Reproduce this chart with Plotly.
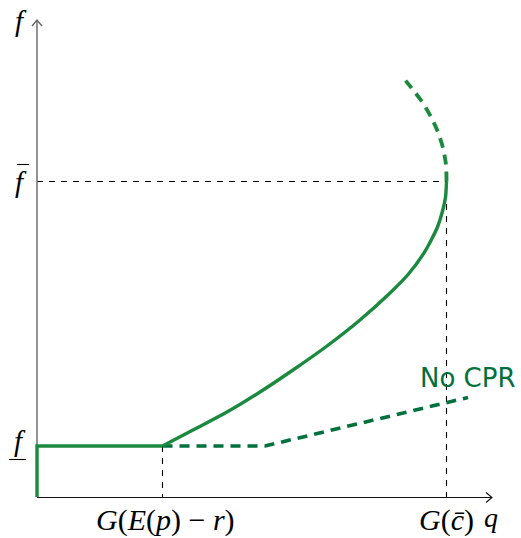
import plotly.graph_objects as go

# ---- data (chart units) ----
q_low = 2.51         # G(E(p) - r)
q_bar = 8.19         # G(c_bar)
f_low = 1.02
f_bar = 6.31

main_q = [2.51, 3.12, 3.8, 4.46, 5.12, 5.8, 6.46, 7.06, 7.43, 7.74, 7.89, 8.01, 8.1, 8.17, 8.19]
main_f = [1.02, 1.34, 1.7, 2.1, 2.54, 3.02, 3.54, 4.08, 4.46, 4.88, 5.15, 5.4, 5.68, 6.0, 6.31]

upper_q = [8.19, 8.18, 8.12, 8.01, 7.87, 7.69, 7.49, 7.28]
upper_f = [6.31, 6.64, 6.98, 7.32, 7.62, 7.92, 8.18, 8.44]

nocpr_q = [2.51, 4.56, 8.62]
nocpr_f = [1.02, 1.02, 1.99]

x_axis_end = 9.1
y_axis_end = 9.54

GREEN = "#1b8a3f"
DARK = "#00703c"

fig = go.Figure()

# reference dashed lines
fig.add_trace(go.Scatter(x=[0, q_bar, q_bar], y=[f_bar, f_bar, 0], mode="lines",
                         line=dict(color="black", width=1.1, dash="6px,6px")))
fig.add_trace(go.Scatter(x=[q_low, q_low], y=[f_low, 0], mode="lines",
                         line=dict(color="black", width=1.1, dash="6px,6px")))

# axes
fig.add_trace(go.Scatter(x=[0, 0], y=[0, y_axis_end], mode="lines",
                         line=dict(color="#666666", width=1.4)))
fig.add_trace(go.Scatter(x=[0, x_axis_end], y=[-0.01, -0.01], mode="lines",
                         line=dict(color="#111111", width=1.1)))

# No CPR dashed
fig.add_trace(go.Scatter(x=nocpr_q, y=nocpr_f, mode="lines",
                         line=dict(color=DARK, width=3.6, dash="10px,7px")))

# CPR curve: vertical + flat + rising
fig.add_trace(go.Scatter(x=[0, 0, q_low], y=[0, f_low, f_low], mode="lines",
                         line=dict(color=GREEN, width=3.4)))
fig.add_trace(go.Scatter(x=main_q, y=main_f, mode="lines",
                         line=dict(color=GREEN, width=3.4, shape="spline", smoothing=0.8)))
fig.add_trace(go.Scatter(x=upper_q, y=upper_f, mode="lines",
                         line=dict(color=GREEN, width=3.8, dash="10px,7px", shape="spline", smoothing=0.8)))

# arrow heads and label bars
shapes = [
    dict(type="path", xref="x", yref="y",
         path=f"M {x_axis_end-0.12},{0.09} L {x_axis_end},-0.01 L {x_axis_end-0.12},{-0.11}",
         line=dict(color="#111111", width=1.1)),
    dict(type="path", xref="x", yref="y",
         path=f"M -0.1,{y_axis_end-0.12} L 0,{y_axis_end} L 0.1,{y_axis_end-0.12}",
         line=dict(color="#666666", width=1.4)),
    # underline of f_low label
    dict(type="line", xref="x", yref="y", x0=-0.56, x1=-0.22, y0=0.75, y1=0.75,
         line=dict(color="black", width=1.1)),
    # bar of f_bar label
    dict(type="line", xref="x", yref="y", x0=-0.4, x1=-0.16, y0=6.65, y1=6.65,
         line=dict(color="black", width=1.1)),
]

SERIF = "Liberation Serif"
ann = [
    dict(x=-0.32, y=9.52, text="<i>f</i>", font=dict(size=29)),
    dict(x=-0.32, y=6.3, text="<i>f</i>", font=dict(size=29)),
    dict(x=-0.34, y=1.12, text="<i>f</i>", font=dict(size=29)),
    dict(x=2.56, y=-0.46, text="<i>G</i>(<i>E</i>(<i>p</i>) \u2212 <i>r</i>)", font=dict(size=30)),
    dict(x=q_bar, y=-0.46, text="<i>G</i>(<i>c\u0304</i>)", font=dict(size=30)),
    dict(x=9.08, y=-0.4, text="<i>q</i>", font=dict(size=28)),
    dict(x=8.62, y=2.38, text="No CPR", font=dict(size=26, family="DejaVu Sans", color=DARK)),
]
annotations = []
for a in ann:
    f = dict(family=SERIF, color="black")
    f.update(a["font"])
    annotations.append(dict(x=a["x"], y=a["y"], xref="x", yref="y", text=a["text"],
                            showarrow=False, font=f, xanchor="center", yanchor="middle"))

fig.update_layout(
    width=521, height=538, autosize=False,
    margin=dict(l=0, r=0, t=0, b=0, pad=0),
    plot_bgcolor="white", paper_bgcolor="white",
    showlegend=False, hovermode=False,
    shapes=shapes, annotations=annotations,
    xaxis=dict(range=[-0.74, 9.68], visible=False, fixedrange=True),
    yaxis=dict(range=[-0.82, 9.94], visible=False, fixedrange=True),
)

fig.write_html("out.html")
